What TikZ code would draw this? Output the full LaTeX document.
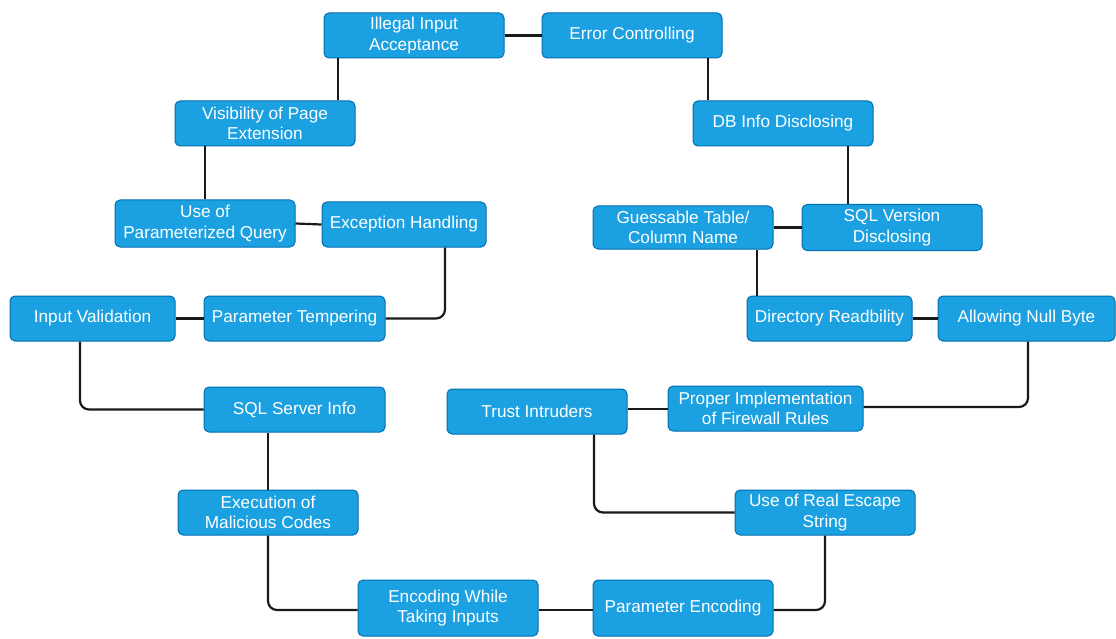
\documentclass[tikz,border=0pt]{standalone}
\usepackage{fontspec}
\setmainfont{Liberation Sans}
\definecolor{boxfill}{HTML}{1BA1E2}
\definecolor{boxline}{HTML}{006EAF}
\definecolor{wire}{HTML}{1A1A1A}
\begin{document}
\begin{tikzpicture}[x=1pt,y=-1pt,
  box/.style={draw=boxline,fill=boxfill,line width=1pt,rounded corners=5pt,
    text=white,align=center,inner sep=0pt,
    font=\fontsize{17.2}{20.5}\selectfont},
  wireline/.style={draw=wire,line width=2.2pt,rounded corners=9pt}]
\useasboundingbox (0,0) rectangle (1116,639);
% nodes
\node[box,minimum width=180pt,minimum height=45pt] (ill) at (414,35.5) {Illegal Input\\Acceptance};
\node[box,minimum width=180pt,minimum height=45pt] (err) at (632,35.5) {Error Controlling};
\node[box,minimum width=180pt,minimum height=45pt] (vis) at (265,123.5) {Visibility of Page\\Extension};
\node[box,minimum width=180pt,minimum height=45pt] (dbi) at (783,123.5) {DB Info Disclosing};
\node[box,minimum width=180pt,minimum height=47pt] (upq) at (205,223.5) {Use of\\Parameterized Query};
\node[box,minimum width=164pt,minimum height=45pt] (exh) at (404,224.5) {Exception Handling};
\node[box,minimum width=180pt,minimum height=43pt] (gtc) at (683,227.5) {Guessable Table/\\Column Name};
\node[box,minimum width=180pt,minimum height=46pt] (svd) at (892,227.5) {SQL Version\\Disclosing};
\node[box,minimum width=165pt,minimum height=45pt] (inv) at (92.5,318.5) {Input Validation};
\node[box,minimum width=181pt,minimum height=45pt] (ptm) at (294.5,318.5) {Parameter Tempering};
\node[box,minimum width=165pt,minimum height=45pt] (dir) at (829.5,318.5) {Directory Readbility};
\node[box,minimum width=177pt,minimum height=45pt] (anb) at (1026.5,318.5) {Allowing Null Byte};
\node[box,minimum width=181pt,minimum height=45pt] (ssi) at (294.5,409.5) {SQL Server Info};
\node[box,minimum width=180pt,minimum height=45pt] (tri) at (537,411.5) {Trust Intruders};
\node[box,minimum width=195pt,minimum height=45pt] (pif) at (765.5,408.5) {Proper Implementation\\of Firewall Rules};
\node[box,minimum width=180pt,minimum height=45pt] (emc) at (268,512.5) {Execution of\\Malicious Codes};
\node[box,minimum width=180pt,minimum height=45pt] (urs) at (825,512.5) {Use of Real Escape\\String};
\node[box,minimum width=180pt,minimum height=56pt] (ewt) at (448,608) {Encoding While\\Taking Inputs};
\node[box,minimum width=180pt,minimum height=56pt] (pen) at (683,608) {Parameter Encoding};
% connectors
\draw[wireline] (ill.east) -- (err.west);
\draw[wireline] (ill.south -| 338,0) -- (vis.north -| 338,0);
\draw[wireline] (err.south -| 708,0) -- (dbi.north -| 708,0);
\draw[wireline] (vis.south -| 205,0) -- (upq.north -| 205,0);
\draw[wireline] (upq.east) -- (exh.west);
\draw[wireline] (exh.south -| 445,0) -- (445,318.5) -- (ptm.east);
\draw[wireline] (inv.east) -- (ptm.west);
\draw[wireline] (inv.south -| 80,0) -- (80,409.5) -- (ssi.west);
\draw[wireline] (ssi.south -| 268,0) -- (emc.north -| 268,0);
\draw[wireline] (emc.south) -- (268,610) -- (ewt.west |- 0,610);
\draw[wireline] (ewt.east |- 0,610) -- (pen.west |- 0,610);
\draw[wireline] (pen.east |- 0,610) -- (825,610) -- (urs.south);
\draw[wireline] (urs.west) -- (594,512.5) -- (tri.south -| 594,0);
\draw[wireline] (tri.east |- 0,409) -- (pif.west |- 0,409);
\draw[wireline] (pif.east |- 0,407) -- (1028,407) -- (anb.south -| 1028,0);
\draw[wireline] (dir.east) -- (anb.west);
\draw[wireline] (dir.north -| 757,0) -- (gtc.south -| 757,0);
\draw[wireline] (gtc.east) -- (svd.west);
\draw[wireline] (svd.north -| 848,0) -- (dbi.south -| 848,0);
\end{tikzpicture}
\end{document}
